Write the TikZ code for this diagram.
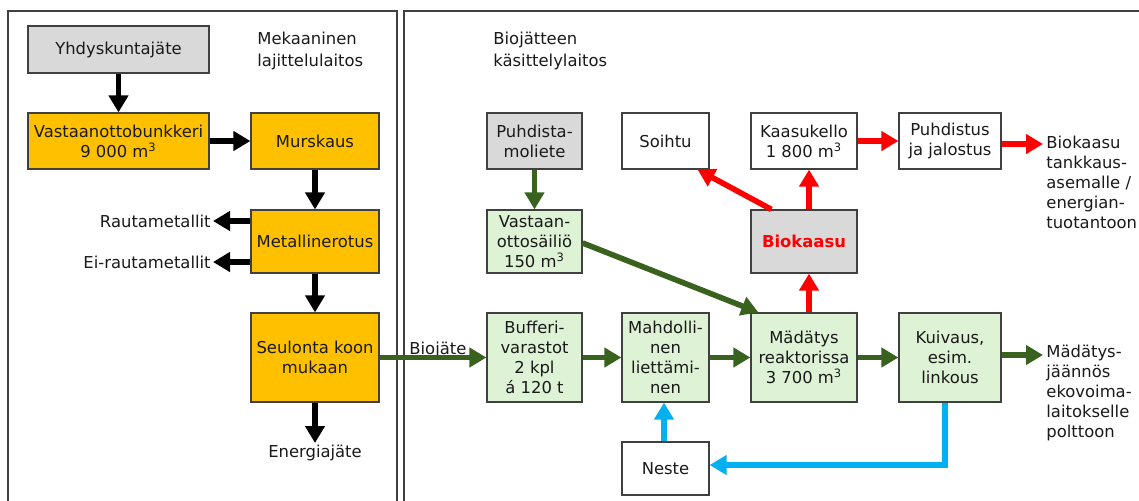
\documentclass[tikz,border=0pt]{standalone}
\usepackage{fontspec}
\setmainfont{DejaVu Sans}
\usetikzlibrary{arrows.meta,calc}
\definecolor{orng}{HTML}{FFC000}
\definecolor{gry}{HTML}{D9D9D9}
\definecolor{lgrn}{HTML}{DEF2D5}
\definecolor{dgrn}{HTML}{38621E}
\definecolor{rd}{HTML}{FF0000}
\definecolor{bl}{HTML}{00B0F0}
\definecolor{brd}{HTML}{404040}
\definecolor{txt}{HTML}{1A1A1A}
\begin{document}
\begin{tikzpicture}[x=0.5pt,y=-0.5pt,
  font=\fontsize{8.2}{10}\selectfont, text=txt,
  box/.style 2 args={draw=brd, line width=0.6pt, align=center, inner sep=1pt,
     minimum width=#1*0.5pt, minimum height=#2*0.5pt},
  obox/.style 2 args={box={#1}{#2}, fill=orng},
  gbox/.style 2 args={box={#1}{#2}, fill=gry},
  lbox/.style 2 args={box={#1}{#2}, fill=lgrn},
  wbox/.style 2 args={box={#1}{#2}, fill=white},
  lbl/.style={inner sep=1pt, align=left},
  arr/.style={line width=2.8pt, -{Triangle[length=8.5pt,width=9.5pt]}},
  blk/.style={arr, draw=black},
  grn/.style={arr, draw=dgrn},
  red/.style={arr, draw=rd},
  blu/.style={arr, draw=bl},
]
\useasboundingbox (0,0) rectangle (1139,500);
% panels
\draw[brd, line width=0.6pt] (8,520) -- (8,11) -- (397,11) -- (397,520);
\draw[brd, line width=0.6pt] (404,520) -- (404,11) -- (1160,11);
% titles
\node[lbl, anchor=north west, font=\fontsize{8.2}{11}\selectfont] (t1) at (255,30) {Mekaaninen\\lajittelulaitos};
\node[lbl, anchor=north west, font=\fontsize{8.2}{11}\selectfont] (t2) at (491,30) {Biojätteen\\käsittelylaitos};
% left boxes
\node[gbox={181}{47}] (yh) at (118.5,49.5) {Yhdyskuntajäte};
\node[obox={181}{56}] (vb) at (118.5,141) {Vastaanottobunkkeri\\9 000 m\textsuperscript{3}};
\node[obox={128}{56}] (mu) at (315,141) {Murskaus};
\node[obox={128}{63}] (me) at (315,241.5) {Metallinerotus};
\node[obox={128}{89}] (se) at (315,357.5) {Seulonta koon\\mukaan};
\node[lbl, anchor=east] (rm) at (213,221) {Rautametallit};
\node[lbl, anchor=east] (er) at (213,262) {Ei-rautametallit};
\node[lbl, anchor=north] (en) at (315,443) {Energiajäte};
% right boxes
\node[gbox={95}{56}] (pl) at (534.5,141) {Puhdista-\\moliete};
\node[wbox={87}{56}] (so) at (665.5,141) {Soihtu};
\node[wbox={106}{56}] (ka) at (804,141) {Kaasukello\\1 800 m\textsuperscript{3}};
\node[wbox={102}{56}] (pj) at (950,141) {Puhdistus\\ja jalostus};
\node[lbox={95}{63}] (vs) at (534.5,241.5) {Vastaan-\\ottosäiliö\\150 m\textsuperscript{3}};
\node[gbox={106}{63}, text=rd, font=\fontsize{8.2}{10}\selectfont\bfseries] (bk) at (804,241.5) {Biokaasu};
\node[lbox={95}{89}] (bu) at (534.5,357.5) {Bufferi-\\varastot\\2 kpl\\á 120 t};
\node[lbox={87}{89}] (ma) at (665.5,357.5) {Mahdolli-\\nen\\liettämi-\\nen};
\node[lbox={106}{89}] (md) at (804,357.5) {Mädätys\\reaktorissa\\3 700 m\textsuperscript{3}};
\node[lbox={102}{89}] (ku) at (950,357.5) {Kuivaus,\\esim.\\linkous};
\node[wbox={87}{53}] (ne) at (665.5,468.5) {Neste};
\node[lbl, anchor=north west, inner sep=0pt] (bt) at (1046,136) {Biokaasu\\tankkaus-\\asemalle /\\energian-\\tuotantoon};
\node[lbl, anchor=north west, inner sep=0pt] (mt) at (1046,345) {Mädätys-\\jäännös\\ekovoima-\\laitokselle\\polttoon};
\coordinate (bte) at (1043,144);
\coordinate (mte) at (1043,355);
% black arrows
\draw[blk] (yh) -- (vb);
\draw[blk] (vb) -- (mu);
\draw[blk] (mu) -- (me);
\draw[blk] (me) -- (se);
\draw[blk] (me.west |- rm.east) -- (rm.east);
\draw[blk] (me.west |- er.east) -- (er.east);
\draw[blk] (se) -- (en);
% green arrows
\node[anchor=base west, inner sep=0pt] (bj) at (409,354) {Biojäte};
\draw[grn] (se.east) -- (bu.west);
\draw[grn] (bu) -- (ma);
\draw[grn] (ma) -- (md);
\draw[grn] (md) -- (ku);
\draw[grn] (ku.east |- mte) -- (mte);
\draw[grn] (pl) -- (vs);
\draw[grn] ([yshift=-0.75pt]vs.east) -- ([xshift=4pt]md.north west);
% red arrows
\draw[red] ([xshift=2.5pt]md.north) -- ([xshift=2.5pt]bk.south);
\draw[red] ([xshift=2.5pt]bk.north) -- ([xshift=2.5pt]ka.south);
\draw[red] ([xshift=10.5pt]bk.north west) -- ([xshift=-6pt]so.south east);
\draw[red] (ka) -- (pj);
\draw[red] (pj.east |- bte) -- (bte);
% blue arrows
\draw[blu] ([xshift=-2.5pt]ku.south) |- ([yshift=1.75pt]ne.east);
\draw[blu] ([xshift=-0.75pt]ne.north) -- ([xshift=-0.75pt]ma.south);
\end{tikzpicture}
\end{document}
